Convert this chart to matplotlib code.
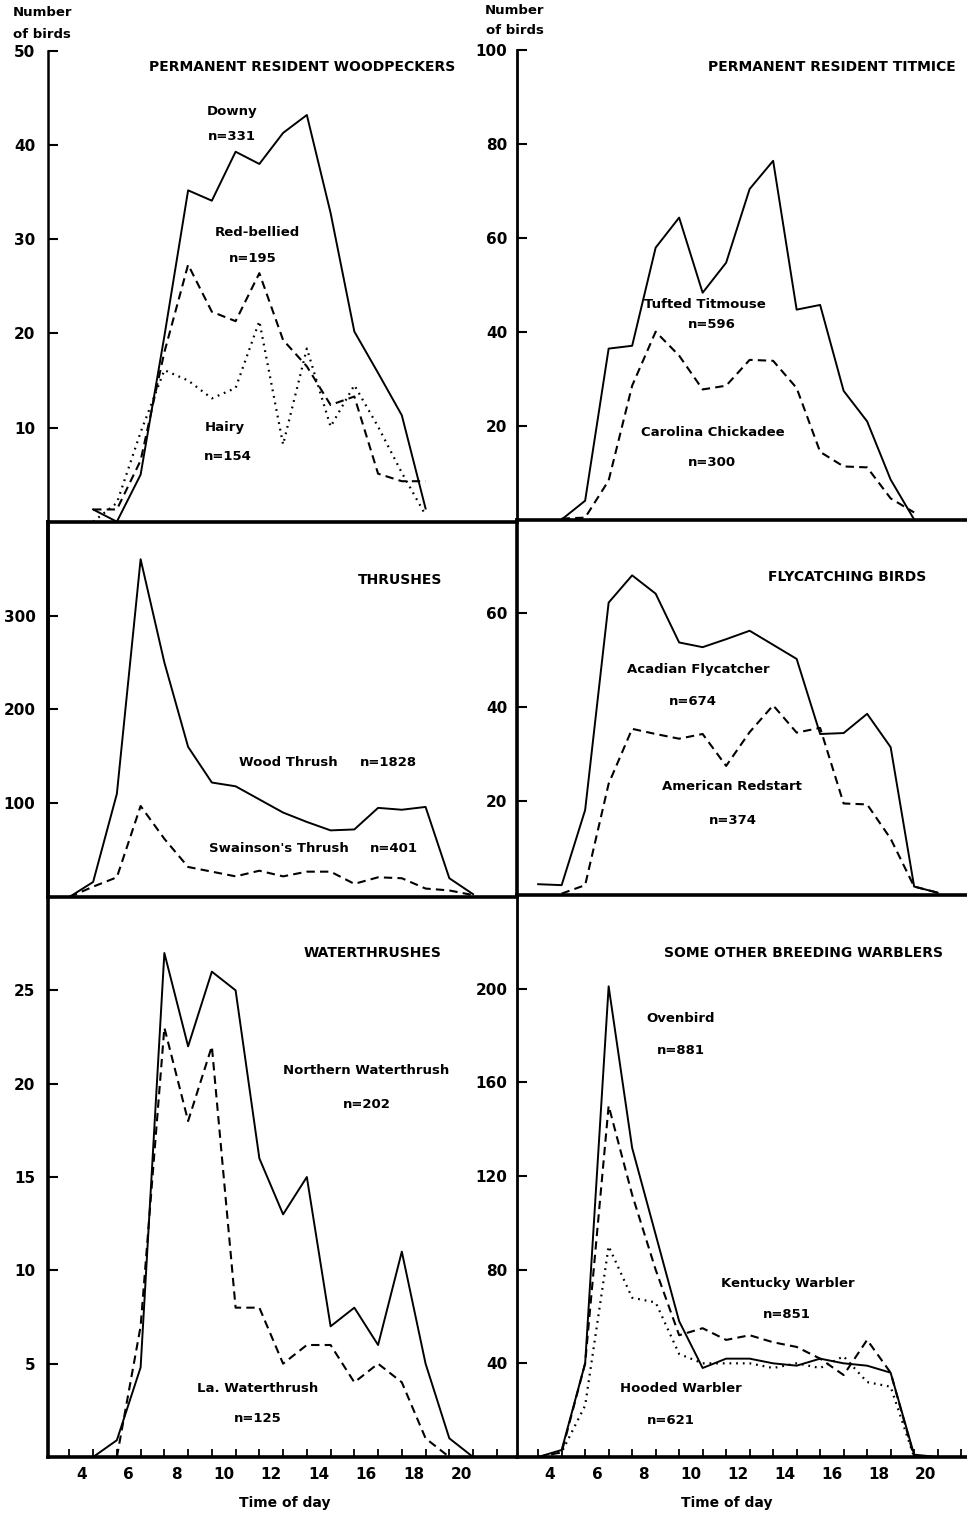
import matplotlib
matplotlib.use("Agg")
import matplotlib.pyplot as plt

# ---- data (hour of day -> number of birds) ----
wp_hours = [4.5, 5.5, 6.5, 7.5, 8.5, 9.5, 10.5, 11.5, 12.5, 13.5, 14.5, 15.5, 16.5, 17.5, 18.5]
downy = [1.3, 0, 5, 19.7, 35.2, 34.1, 39.3, 38.0, 41.3, 43.2, 32.8, 20.2, 15.8, 11.3, 1.4]
red_bellied = [1.3, 1.3, 6.5, 18, 27.3, 22.3, 21.3, 26.4, 19.3, 16.5, 12.4, 13.3, 5.1, 4.3, 4.3]
hairy = [0, 2, 9.5, 16.1, 15.0, 13.1, 14.2, 21.3, 8.2, 18.4, 10.1, 14.5, 10.1, 5.2, 0.7]

tit_hours = [4.5, 5.5, 6.5, 7.5, 8.5, 9.5, 10.5, 11.5, 12.5, 13.5, 14.5, 15.5, 16.5, 17.5, 18.5, 19.5]
tufted = [0, 4, 36.4, 37, 57.9, 64.3, 48.3, 54.7, 70.4, 76.4, 44.7, 45.7, 27.4, 20.9, 8.5, 0]
chickadee = [0.2, 0.4, 8.3, 28.5, 40, 34.9, 27.7, 28.5, 34, 33.8, 28, 14.4, 11.3, 11.1, 4.5, 1.5]

thr_hours = [3.5, 4.5, 5.5, 6.5, 7.5, 8.5, 9.5, 10.5, 11.5, 12.5, 13.5, 14.5, 15.5, 16.5, 17.5, 18.5, 19.5, 20.5]
wood_thrush = [0, 16, 110, 360, 250, 160, 122, 118, 104, 90, 80, 71, 72, 95, 93, 96, 20, 3]
swainsons = [0, 11, 21, 97, 62, 32, 27, 22, 28, 22, 27, 27, 14, 21, 20, 9, 7, 2]

fly_hours = [3.5, 4.5, 5.5, 6.5, 7.5, 8.5, 9.5, 10.5, 11.5, 12.5, 13.5, 14.5, 15.5, 16.5, 17.5, 18.5, 19.5, 20.5]
acadian = [2.3, 2.1, 18.1, 62.3, 68.1, 64.2, 53.8, 52.8, 54.5, 56.3, 53.3, 50.3, 34.3, 34.5, 38.6, 31.5, 1.8, 0.5]
redstart_hours = fly_hours[1:]
redstart = [0.3, 2.1, 23.7, 35.4, 34.3, 33.3, 34.3, 27.5, 34.7, 40.4, 34.6, 35.6, 19.5, 19.3, 12.0, 1.8, 0.5]

wt_hours = [4.5, 5.5, 6.5, 7.5, 8.5, 9.5, 10.5, 11.5, 12.5, 13.5, 14.5, 15.5, 16.5, 17.5, 18.5, 19.5, 20.5]
northern = [0, 0.9, 4.8, 27, 22, 26, 25, 16, 13, 15, 7, 8, 6, 11, 5, 1, 0]
la_hours = wt_hours[1:-1]
louisiana = [0, 7, 23, 18, 22, 8, 8, 5, 6, 6, 4, 5, 4, 1, 0]

wb_hours = [3.5, 4.5, 5.5, 6.5, 7.5, 8.5, 9.5, 10.5, 11.5, 12.5, 13.5, 14.5, 15.5, 16.5, 17.5, 18.5, 19.5, 20.5]
ovenbird = [0, 3, 40, 201, 132, 95, 58, 38, 42, 42, 40, 39, 42, 40, 39, 36, 1, 0]
kent_hours = wb_hours[:-1]
kentucky = [0, 2, 40, 150, 112, 80, 52, 55, 50, 52, 49, 47, 42, 35, 50, 36, 0]
hooded = [0, 2, 22, 90, 68, 66, 44, 40, 40, 40, 38, 40, 38, 43, 32, 30, 0]

even_hours = [4, 6, 8, 10, 12, 14, 16, 18, 20]
half_hours = [3.5, 4.5, 5.5, 6.5, 7.5, 8.5, 9.5, 10.5, 11.5, 12.5, 13.5, 14.5, 15.5, 16.5, 17.5, 18.5, 19.5, 20.5, 21.5]

W, H = 967, 1516
fig = plt.figure(figsize=(W / 100, H / 100), dpi=100)
plt.rcParams['font.family'] = ['DejaVu Sans']

SOLID = dict(color='black', lw=1.4, ls='-')
DASH = dict(color='black', lw=1.5, ls=(0, (4, 2.5)))
DOT = dict(color='black', lw=1.6, ls=(0, (0.8, 2.2)))


def make_ax(x0, x1, y_top, y_bot, xlim, ylim, yticks, right=False, bottom=False, lw_left=2.0):
    ax = fig.add_axes([x0 / W, 1 - y_bot / H, (x1 - x0) / W, (y_bot - y_top) / H])
    ax.set_xlim(*xlim)
    ax.set_ylim(*ylim)
    ax.patch.set_alpha(0)
    for s in ['top', 'right']:
        ax.spines[s].set_visible(False)
    ax.spines['left'].set_linewidth(lw_left)
    ax.spines['bottom'].set_linewidth(2.6)
    ax.set_yticks(yticks)
    ax.set_yticklabels([str(t) for t in yticks], fontsize=11, fontweight='bold')
    ax.tick_params(axis='y', direction='in', length=7, width=1.5, pad=9 if not right else 7)
    if bottom:
        ax.set_xticks(even_hours)
        ax.set_xticklabels([str(t) for t in even_hours], fontsize=11, fontweight='bold')
        ax.set_xticks(half_hours, minor=True)
        ax.tick_params(axis='x', which='major', length=0, pad=7)
        ax.tick_params(axis='x', which='minor', direction='in', length=6, width=1.3)
    else:
        ax.set_xticks([])
    return ax


def label(x, y, s, size=9.5):
    fig.text(x / W, 1 - y / H, s, ha='center', va='center', fontsize=size, fontweight='bold')


LX = (2.6, 22.35)
RX = (2.6, 21.75)

# top row
ax = make_ax(48, 517, 51, 521.7, LX, (0, 50), [10, 20, 30, 40, 50], lw_left=1.8)
ax.plot(wp_hours, downy, **SOLID)
ax.plot(wp_hours, red_bellied, **DASH)
ax.plot(wp_hours, hairy, **DOT)
ax = make_ax(517, 967, 50, 519.5, RX, (0, 100), [20, 40, 60, 80, 100], right=True)
ax.plot(tit_hours, tufted, **SOLID)
ax.plot(tit_hours, chickadee, **DASH)

# middle row
ax = make_ax(48, 517, 521.7, 897, LX, (0, 400), [100, 200, 300], lw_left=2.8)
ax.plot(thr_hours, wood_thrush, **SOLID)
ax.plot(thr_hours, swainsons, **DASH)
ax = make_ax(517, 967, 519.5, 895, RX, (0, 80), [20, 40, 60], right=True, lw_left=2.6)
ax.plot(fly_hours, acadian, **SOLID)
ax.plot(redstart_hours, redstart, **DASH)

# bottom row
ax = make_ax(48, 517, 897, 1457, LX, (0, 30), [5, 10, 15, 20, 25], bottom=True, lw_left=2.6)
ax.plot(wt_hours, northern, **SOLID)
ax.plot(la_hours, louisiana, **DASH)
ax = make_ax(517, 967, 895, 1457, RX, (0, 240), [40, 80, 120, 160, 200], right=True, bottom=True)
ax.plot(wb_hours, ovenbird, **SOLID)
ax.plot(kent_hours, kentucky, **DASH)
ax.plot(kent_hours, hooded, **DOT)

# annotations
label(302, 67, "PERMANENT RESIDENT WOODPECKERS", 10)
label(232, 112, "Downy")
label(232, 137, "n=331")
label(257, 232, "Red-bellied")
label(253, 258, "n=195")
label(225, 428, "Hairy")
label(228, 457, "n=154")

label(832, 67, "PERMANENT RESIDENT TITMICE", 10)
label(705, 304, "Tufted Titmouse")
label(712, 325, "n=596")
label(713, 432, "Carolina Chickadee")
label(712, 463, "n=300")

label(400, 580, "THRUSHES", 10)
label(288, 763, "Wood Thrush")
label(388, 763, "n=1828")
label(279, 848, "Swainson's Thrush")
label(394, 848, "n=401")

label(847, 577, "FLYCATCHING BIRDS", 10)
label(698, 669, "Acadian Flycatcher")
label(693, 702, "n=674")
label(732, 787, "American Redstart")
label(733, 821, "n=374")

label(373, 953, "WATERTHRUSHES", 10)
label(366, 1071, "Northern Waterthrush")
label(367, 1104, "n=202")
label(258, 1388, "La. Waterthrush")
label(258, 1419, "n=125")

label(803, 953, "SOME OTHER BREEDING WARBLERS", 10)
label(681, 1018, "Ovenbird")
label(681, 1051, "n=881")
label(788, 1284, "Kentucky Warbler")
label(787, 1315, "n=851")
label(681, 1389, "Hooded Warbler")
label(671, 1420, "n=621")

label(42, 13, "Number", 9.5)
label(42, 34, "of birds", 9.5)
label(515, 11, "Number", 9.5)
label(515, 31, "of birds", 9.5)
label(285, 1503, "Time of day", 10)
label(727, 1503, "Time of day", 10)

fig.savefig("out.png", dpi=100)
